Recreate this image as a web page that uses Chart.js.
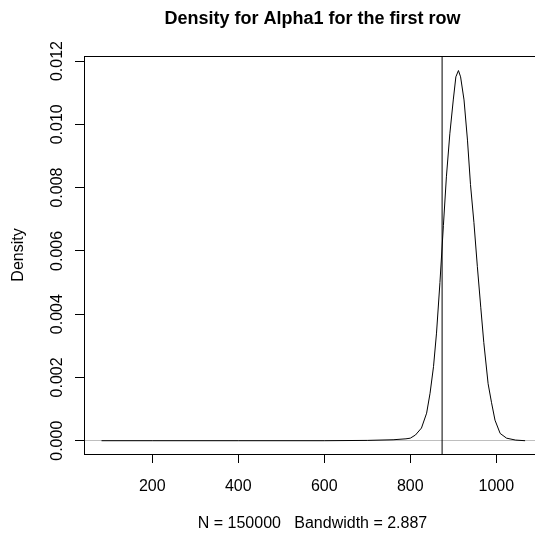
<!DOCTYPE html>
<html>
<head>
<meta charset="utf-8">
<script src="https://cdn.jsdelivr.net/npm/chart.js@4"></script>
<style>
  html, body { margin: 0; padding: 0; background: #fff; overflow: hidden; }
  #wrap { width: 545px; height: 535px; }
</style>
</head>
<body>
<div id="wrap"><canvas id="density" width="545" height="535"></canvas></div>
<script>
// values
const densityX = [82, 200, 400, 600, 700, 760, 790, 800, 812, 826, 838, 846, 854, 861, 869, 877,
  884, 892, 900, 906, 912, 917, 925, 933, 940, 948, 956, 964, 971, 981, 989, 997, 1009, 1024, 1045, 1067];
const densityY = [0, 0, 0, 0, 0.00001, 0.00003, 0.00006, 0.00008, 0.00018, 0.0004, 0.00087, 0.0015,
  0.00234, 0.0034, 0.005, 0.0068, 0.00834, 0.0097, 0.01077, 0.0115, 0.0117, 0.0115, 0.01077, 0.0095,
  0.0081, 0.0069, 0.0055, 0.0042, 0.0031, 0.0018, 0.0012, 0.00065, 0.00023, 0.00008, 0.00002, 0];
const xTicks = [200, 400, 600, 800, 1000];
const yTicks = [0, 0.002, 0.004, 0.006, 0.008, 0.010, 0.012];
const markerX = 874;

const titleText = "Density for Alpha1 for the first row";
const xTitle = "N = 150000   Bandwidth = 2.887";
const yTitle = "Density";

const fontFamily = '"Liberation Sans", Arial, Helvetica, sans-serif';
Chart.defaults.font.family = fontFamily;
Chart.defaults.color = "#000";

// R draws a full box round the plot region
const boxPlugin = {
  id: "box",
  afterDraw(chart) {
    const { ctx, chartArea: a } = chart;
    ctx.save();
    ctx.strokeStyle = "#000";
    ctx.lineWidth = 1;
    ctx.strokeRect(Math.round(a.left) + 0.5, Math.round(a.top) + 0.5,
      Math.round(a.right - a.left), Math.round(a.bottom - a.top));
    ctx.restore();
  }
};

const ctx = document.getElementById("density");
new Chart(ctx, {
  type: "line",
  data: {
    datasets: [
      {
        label: "density",
        data: densityX.map((x, i) => ({ x: x, y: densityY[i] })),
        borderColor: "#000",
        borderWidth: 1,
        pointRadius: 0,
        tension: 0,
        fill: false
      },
      {
        label: "marker",
        data: [{ x: markerX, y: -1 }, { x: markerX, y: 1 }],
        borderColor: "#000",
        borderWidth: 1,
        pointRadius: 0,
        fill: false
      }
    ]
  },
  options: {
    responsive: false,
    animation: false,
    layout: { padding: { left: 0, right: 4, top: 0, bottom: 0 } },
    plugins: {
      legend: { display: false },
      tooltip: { enabled: false },
      title: {
        display: true,
        text: titleText,
        fullSize: false,
        color: "#000",
        font: { size: 18, weight: "bold" },
        padding: { top: 8, bottom: 26.4 }
      }
    },
    scales: {
      x: {
        type: "linear",
        min: 41.2,
        max: 1104,
        afterBuildTicks: (s) => { s.ticks = xTicks.map((v) => ({ value: v })); },
        afterFit: (s) => { s.height = 81; },
        border: { display: false },
        grid: { drawOnChartArea: false, drawTicks: true, tickLength: 9, tickColor: "#000" },
        ticks: {
          autoSkip: false, maxRotation: 0, padding: 14,
          font: { size: 16 }, color: "#000",
          callback: (v) => String(v)
        },
        title: { display: true, text: xTitle, font: { size: 16 }, color: "#000", padding: { top: 0, bottom: 1.5 } }
      },
      y: {
        type: "linear",
        min: -0.00042,
        max: 0.012159,
        afterBuildTicks: (s) => { s.ticks = yTicks.map((v) => ({ value: v })); },
        afterFit: (s) => { s.width = 84; },
        border: { display: false },
        grid: {
          drawOnChartArea: true, drawTicks: true, tickLength: 9, tickColor: "#000", lineWidth: 1,
          color: (c) => (c.tick && c.tick.value === 0 ? "#bebebe" : "rgba(0,0,0,0)")
        },
        ticks: {
          minRotation: 90, maxRotation: 90, crossAlign: "center", padding: -3,
          font: { size: 16 }, color: "#000",
          callback: (v) => v.toFixed(3)
        },
        title: { display: true, text: yTitle, font: { size: 16 }, color: "#000", padding: { top: 9.4, bottom: 0 } }
      }
    }
  },
  plugins: [boxPlugin]
});
</script>
</body>
</html>
